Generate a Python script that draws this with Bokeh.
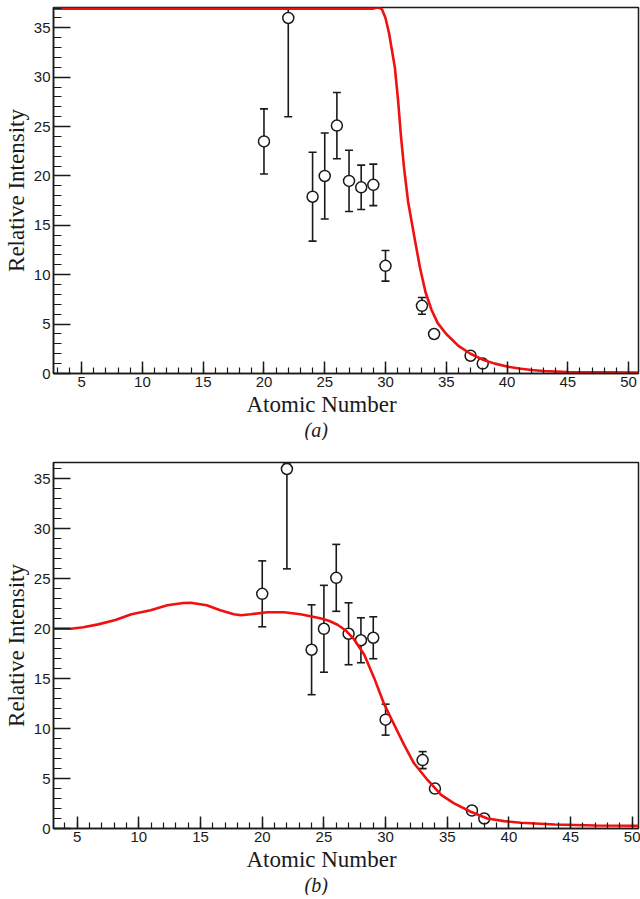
from bokeh.plotting import figure
from bokeh.models import Range1d, Whisker, ColumnDataSource, Title, FixedTicker, TeeHead
from bokeh.layouts import column
from bokeh.embed import file_html
from bokeh.resources import INLINE

# measured points (same in both panels)
atomic_number = [20, 22, 24, 25, 26, 27, 28, 29, 30, 33, 34, 37, 38]
intensity = [23.5, 36.0, 17.9, 20.0, 25.1, 19.5, 18.85, 19.1, 10.9, 6.85, 4.0, 1.8, 1.0]
error = [3.3, 10.0, 4.5, 4.35, 3.35, 3.1, 2.25, 2.1, 1.55, 0.85, 0.4, 0.3, 0.25]

# model curve (a)
fit_a_z = [2.7, 29.0, 29.4, 29.7, 30.0, 30.3, 30.77, 31.04, 31.26, 31.53, 31.86, 32.35,
           32.84, 33.3, 33.8, 34.3, 35.0, 36.0, 37.0, 38.0, 39.0, 40.0, 41.0, 42.0,
           43.0, 45.0, 48.0, 50.8]
fit_a_i = [36.95, 36.95, 37.05, 36.9, 36.0, 34.4, 31.0, 27.6, 24.2, 20.8, 17.4, 14.0,
           10.7, 8.2, 6.4, 5.1, 4.0, 2.8, 2.0, 1.4, 1.0, 0.7, 0.5, 0.35,
           0.25, 0.15, 0.12, 0.1]

# model curve (b)
fit_b_z = [3.1, 4.5, 5.5, 6.7, 8.1, 9.4, 10.95, 12.3, 13.6, 14.2, 15.5, 16.6, 17.7, 18.3,
           19.05, 20.4, 21.76, 23.1, 24.7, 25.4, 26.1, 26.8, 27.45, 28.26, 29.07, 29.9,
           30.7, 31.5, 32.3, 33.4, 34.5, 35.55, 36.9, 38.25, 39.6, 40.96, 43.7, 47.0, 50.5]
fit_b_i = [20.0, 20.0, 20.15, 20.44, 20.87, 21.45, 21.85, 22.35, 22.58, 22.6, 22.35, 21.85,
           21.45, 21.35, 21.45, 21.65, 21.65, 21.45, 21.05, 20.8, 20.4, 19.8, 18.93, 17.43,
           15.08, 12.4, 10.39, 8.38, 6.53, 4.86, 3.36, 2.51, 1.68, 1.0, 0.74, 0.57, 0.4,
           0.3, 0.27]

x_ticks = [5, 10, 15, 20, 25, 30, 35, 40, 45, 50]
y_ticks = [0, 5, 10, 15, 20, 25, 30, 35]
x_minor = list(range(3, 51))
y_minor = list(range(0, 38))

INK = "#1a1a1a"
SERIF = "Liberation Serif"
SANS = "Liberation Sans"


def make_panel(xr, yr, fit_z, fit_i, caption, height, top_border):
    p = figure(width=640, height=height, x_range=Range1d(*xr), y_range=Range1d(*yr),
               output_backend="svg", toolbar_location=None,
               min_border_top=top_border, min_border_left=0, min_border_right=2,
               min_border_bottom=0)
    p.grid.visible = False
    p.outline_line_color = INK
    p.outline_line_width = 1.5
    p.background_fill_color = "white"

    for ax, ticks, minor, tin, min_in in ((p.xaxis[0], x_ticks, x_minor, 12, 6),
                                          (p.yaxis[0], y_ticks, y_minor, 17, 8)):
        ax.ticker = FixedTicker(ticks=ticks, minor_ticks=minor)
        ax.axis_line_color = INK
        ax.axis_line_width = 1.5
        ax.major_tick_line_color = INK
        ax.major_tick_line_width = 1.5
        ax.minor_tick_line_color = INK
        ax.minor_tick_line_width = 1.2
        ax.major_tick_in = tin
        ax.major_tick_out = 0
        ax.minor_tick_in = min_in
        ax.minor_tick_out = 0
        ax.major_label_text_font = SANS
        ax.major_label_text_font_size = "15px"
        ax.major_label_text_color = INK
        ax.major_label_standoff = 3

    p.yaxis.axis_label = "Relative Intensity"
    p.yaxis.axis_label_text_font = SERIF
    p.yaxis.axis_label_text_font_style = "normal"
    p.yaxis.axis_label_text_font_size = "23px"
    p.yaxis.axis_label_text_color = INK
    p.yaxis.axis_label_standoff = 2

    xlab = Title(text="Atomic Number", align="left", offset=193, standoff=0,
                 text_font=SERIF, text_font_size="23px", text_font_style="normal",
                 text_color=INK)
    p.add_layout(xlab, "below")
    cap = Title(text=caption, align="left", offset=251, standoff=0,
                text_font=SERIF, text_font_size="20px", text_font_style="italic",
                text_color=INK)
    p.add_layout(cap, "below")

    ymax = yr[1]
    upper = [min(v + e, ymax - 0.05) for v, e in zip(intensity, error)]
    lower = [v - e for v, e in zip(intensity, error)]
    src = ColumnDataSource(data=dict(z=atomic_number, i=intensity, up=upper, lo=lower))
    w = Whisker(base="z", upper="up", lower="lo", source=src, line_color=INK, line_width=1.6,
                upper_head=TeeHead(size=8, line_color=INK, line_width=1.6),
                lower_head=TeeHead(size=8, line_color=INK, line_width=1.6))
    p.add_layout(w)
    p.scatter("z", "i", source=src, marker="circle", size=11, fill_color="white",
              line_color=INK, line_width=1.5)
    p.line(fit_z, fit_i, line_color="#f01010", line_width=2.6)
    return p


pa = make_panel((2.68, 50.82), (0, 37.06), fit_a_z, fit_a_i, "(a)", 440, 7)
pb = make_panel((3.08, 50.5), (0, 36.65), fit_b_z, fit_b_i, "(b)", 455, 22)

layout = column(pa, pb)
open("out.html", "w").write(file_html(layout, INLINE))
